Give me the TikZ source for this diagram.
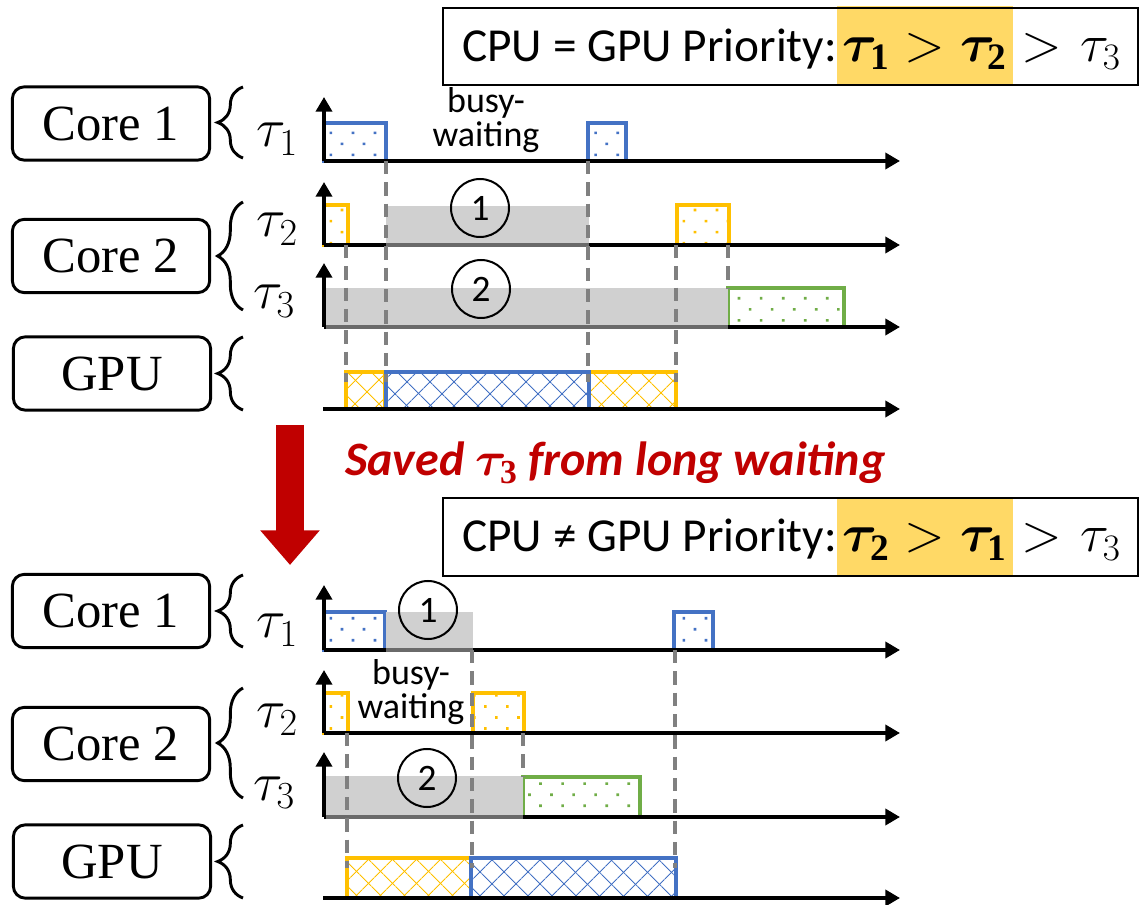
\RequirePackage{fix-cm}
\documentclass[tikz,border=0pt]{standalone}
\usepackage{fontspec}
\usepackage{bm}
\setmainfont{Liberation Serif}
\newfontfamily\carl{Carlito}
\usetikzlibrary{arrows.meta,patterns.meta,decorations.pathreplacing}
\definecolor{cblue}{HTML}{4472C4}
\definecolor{cyel}{HTML}{FFC000}
\definecolor{cgreen}{HTML}{70AD47}
\definecolor{cgray}{HTML}{D0D0D0}
\definecolor{dgray}{HTML}{808080}
\definecolor{agray}{HTML}{6A6A6A}
\definecolor{cred}{HTML}{C00000}
\definecolor{hlyel}{HTML}{FFD966}
\pgfdeclarelayer{background}
\pgfsetlayers{background,main}
\begin{document}
\begin{tikzpicture}[x=0.75pt,y=-0.75pt,
 corebox/.style={draw, line width=2.2pt, rounded corners=9pt, minimum width=148pt, minimum height=55pt, inner sep=0pt, font=\fontsize{38}{40}\selectfont},
 brc/.style={draw, line width=2.2pt, decorate, decoration={brace, amplitude=19pt}},
 tau/.style={anchor=base west, inner sep=0pt, font=\fontsize{41}{44}\selectfont},
 axisline/.style={draw, line width=3pt, -{Triangle[length=11pt,width=12pt]}},
 cpubox/.style={draw=#1, line width=3pt, pattern={Dots[distance=11.7pt, angle=45, radius=1.4pt]}, pattern color=#1},
 gpubox/.style={draw=#1, line width=3pt, preaction={pattern={Lines[angle=45,distance=13pt,line width=0.9pt]}, pattern color=#1}, pattern={Lines[angle=-45,distance=13pt,line width=0.9pt]}, pattern color=#1},
 graybox/.style={fill=cgray},
 grayaxis/.style={draw=agray, line width=3pt},
 dashline/.style={draw=dgray, line width=2.6pt, dash pattern=on 10pt off 6pt},
 circnum/.style={circle, draw, line width=1.5pt, minimum size=43.5pt, inner sep=0pt, font=\carl\fontsize{28}{30}\selectfont},
 ttl/.style={anchor=base west, inner sep=0pt, font=\carl\fontsize{35.5}{40}\selectfont},
 ttlm/.style={anchor=base west, inner sep=0pt, font=\carl\fontsize{40}{40}\selectfont},
 busy/.style={align=center, inner sep=0pt, font=\carl\fontsize{27}{26}\selectfont},
 titleframe/.style={draw, line width=1.5pt},
]
\useasboundingbox (0,0) rectangle (1140,905);

% ---------- titles ----------
\coordinate (hlT1) at (0,6);  \coordinate (hlB1) at (0,85);
\coordinate (hlT2) at (0,497); \coordinate (hlB2) at (0,577);
\node[ttl] (ta1) at (462,62) {CPU = GPU Priority:};
\node[ttlm, inner xsep=4pt] (ta2) at (ta1.base east) {$\bm{\tau}_{\mathbf{1}} > \bm{\tau}_{\mathbf{2}}$};
\node[ttlm] (ta3) at (ta2.base east) {$\mkern3mu{>}\mkern6mu\tau_3$};
\node[ttl] (tb1) at (462,552) {CPU \char"2260\ GPU Priority:};
\node[ttlm, inner xsep=4pt] (tb2) at (tb1.base east) {$\bm{\tau}_{\mathbf{2}} > \bm{\tau}_{\mathbf{1}}$};
\node[ttlm] (tb3) at (tb2.base east) {$\mkern3mu{>}\mkern6mu\tau_3$};
\begin{pgfonlayer}{background}
\fill[hlyel] (ta2.west |- hlT1) rectangle (ta2.east |- hlB1);
\fill[hlyel] (tb2.west |- hlT2) rectangle (tb2.east |- hlB2);
\end{pgfonlayer}
\draw[titleframe] (443,8) rectangle (1138,85);
\draw[titleframe] (443,498) rectangle (1138,576);

% ---------- left labels ----------
\node[corebox] (c1a) at (111,123.5) {Core 1};
\node[corebox] (c2a) at (111,256) {Core 2};
\node[corebox] (ga) at (112,373.5) {GPU};
\node[corebox] (c1b) at (111,611) {Core 1};
\node[corebox] (c2b) at (111,744) {Core 2};
\node[corebox] (gb) at (112,861.5) {GPU};
\draw[brc] (243,158) -- (243,87);
\draw[brc] (243,310) -- (243,202);
\draw[brc] (243,410) -- (243,337);
\draw[brc] (243,647) -- (243,575);
\draw[brc] (243,798) -- (243,688);
\draw[brc] (243,898) -- (243,825);
\node[tau] (l1a) at (256,147) {$\tau_1$};
\node[tau] (l2a) at (256,237) {$\tau_2$};
\node[tau] (l3a) at (253,309) {$\tau_3$};
\node[tau] (l1b) at (256,638) {$\tau_1$};
\node[tau] (l2b) at (256,727) {$\tau_2$};
\node[tau] (l3b) at (253,800) {$\tau_3$};

% ---------- top schedule boxes ----------
\path[cpubox=cblue] (324,123) rectangle (386,161);
\path[cpubox=cblue] (588,123) rectangle (626,161);
\path[cpubox=cyel] (324,205) rectangle (348,245);
\path[cpubox=cyel] (677,205) rectangle (729,245);
\path[cpubox=cgreen] (728,288) rectangle (844,327);
\path[gpubox=cyel] (346,372) rectangle (385,409);
\path[gpubox=cyel] (589,372) rectangle (676,409);
\path[gpubox=cblue] (386,372) rectangle (589,409);

% ---------- bottom schedule boxes ----------
\path[cpubox=cblue] (324,612) rectangle (385,650);
\path[cpubox=cblue] (674,612) rectangle (713,650);
\path[cpubox=cyel] (324,693) rectangle (348,733);
\path[cpubox=cyel] (473,693) rectangle (524,733);
\path[cpubox=cgreen] (523,777) rectangle (640,817);
\path[gpubox=cyel] (347,858) rectangle (471,898);
\path[gpubox=cblue] (471,858) rectangle (676,898);

% ---------- axes ----------
\foreach \n/\y/\t in {a1/161/97, a2/245/182, a3/327/263, b1/650/585, b2/733/670, b3/817/752}{
  \coordinate (o\n) at (324,\y);
  \coordinate (e\n) at (900,\y);
  \coordinate (u\n) at (324,\t);
  \draw[axisline] (o\n) -- (e\n);
  \draw[axisline] (o\n) -- (u\n);
}
\coordinate (oga) at (323,409); \coordinate (ega) at (900,409);
\coordinate (ogb) at (323,898); \coordinate (egb) at (900,898);
\draw[axisline] (oga) -- (ega);
\draw[axisline] (ogb) -- (egb);

% ---------- waiting (gray) boxes ----------
\path[graybox] (386,206) rectangle (589,245);
\draw[grayaxis] (386,245) -- (589,245);
\path[graybox] (326,288) rectangle (728,327);
\draw[grayaxis] (326,327) -- (728,327);
\path[graybox] (386,612) rectangle (473,650);
\draw[grayaxis] (386,650) -- (473,650);
\path[graybox] (326,776) rectangle (523,817);
\draw[grayaxis] (326,817) -- (523,817);

% ---------- dashed guides ----------
\draw[dashline] (346,245) -- (346,382);
\draw[dashline] (386,161) -- (386,382);
\draw[dashline] (588,161) -- (588,382);
\draw[dashline] (676,245) -- (676,382);
\draw[dashline] (728,245) -- (728,288);
\draw[dashline] (347,733) -- (347,868);
\draw[dashline] (472,650) -- (472,868);
\draw[dashline] (523,733) -- (523,777);
\draw[dashline] (675,650) -- (675,868);

% ---------- circled numbers and labels ----------
\node[circnum] (n1a) at (480,208) {1};
\node[circnum] (n2a) at (481,289) {2};
\node[circnum] (n1b) at (428,610) {1};
\node[circnum] (n2b) at (427,778) {2};
\node[busy] (bwa) at (486,120) {busy-\\waiting};
\node[busy] (bwb) at (411,692) {busy-\\waiting};

% ---------- transition ----------
\coordinate (ra) at (290,425);
\coordinate (rb) at (290,565);
\draw[draw=cred, line width=21pt, -{Triangle[length=26pt,width=43pt]}] (ra) -- (rb);
\node[anchor=base west, inner sep=0pt, text=cred, font=\carl\bfseries\itshape\fontsize{36}{40}\selectfont] (saved) at (345,476) {Saved $\bm{\tau}_{\mathbf{3}}$ from long waiting};
\end{tikzpicture}
\end{document}
